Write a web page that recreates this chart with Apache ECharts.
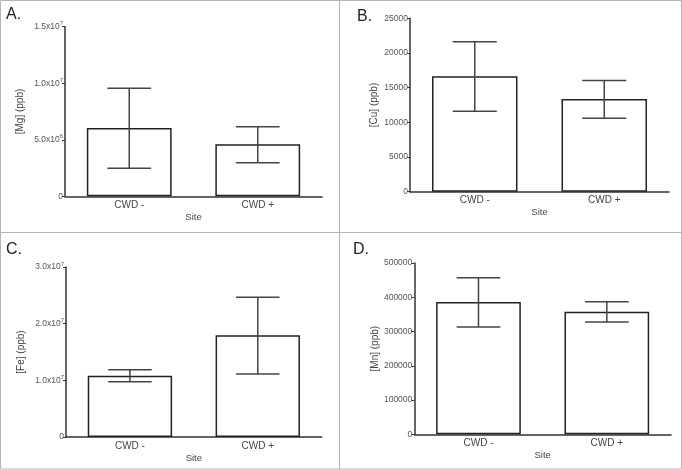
<!DOCTYPE html>
<html><head><meta charset="utf-8">
<script src="https://cdn.jsdelivr.net/npm/echarts@6/dist/echarts.min.js"></script>
<style>html,body{margin:0;padding:0;background:#fff}#c{width:682px;height:470px}</style>
</head><body><div id="c"></div>
<script>
// ---- data ----
const categories = ['CWD -', 'CWD +'];
const mgMean = [6.04e6, 4.60e6];
const mgLow  = [2.48e6, 2.97e6];
const mgHigh = [9.56e6, 6.16e6];
const cuMean = [16630, 13360];
const cuLow  = [11590, 10580];
const cuHigh = [21610, 16050];
const feMean = [1.082e7, 1.794e7];
const feLow  = [0.976e7, 1.112e7];
const feHigh = [1.188e7, 2.465e7];
const mnMean = [386200, 358000];
const mnLow  = [313200, 327800];
const mnHigh = [457200, 387200];
const tickLabelsA = ['0', '5.0x10|6', '1.0x10|7', '1.5x10|7'];
const tickLabelsB = ['0', '5000', '10000', '15000', '20000', '25000'];
const tickLabelsC = ['0', '1.0x10|7', '2.0x10|7', '3.0x10|7'];
const tickLabelsD = ['0', '100000', '200000', '300000', '400000', '500000'];
const yNames = ['[Mg] (ppb)', '[Cu] (ppb)', '[Fe] (ppb)', '[Mn] (ppb)'];
const panelLetters = ['A.', 'B.', 'C.', 'D.'];
const xName = 'Site';

const panels = [
  {mean: mgMean, low: mgLow, high: mgHigh, ticks: tickLabelsA, max: 1.5e7, interval: 5e6,
   grid: {left: 65, right: 360, top: 26.7, bottom: 273.7}, nameGap: 40, letter: [6, 7]},
  {mean: cuMean, low: cuLow, high: cuHigh, ticks: tickLabelsB, max: 25000, interval: 5000,
   grid: {left: 410, right: 13, top: 18.3, bottom: 278.3}, nameGap: 31, letter: [357, 9]},
  {mean: feMean, low: feLow, high: feHigh, ticks: tickLabelsC, max: 3e7, interval: 1e7,
   grid: {left: 66, right: 360.3, top: 267, bottom: 33}, nameGap: 40, letter: [6, 242]},
  {mean: mnMean, low: mnLow, high: mnHigh, ticks: tickLabelsD, max: 500000, interval: 100000,
   grid: {left: 414.3, right: 11, top: 263, bottom: 35.7}, nameGap: 33, letter: [353, 242]}
];

const font = 'Liberation Sans, Arial, sans-serif';
const grids = [], xAxes = [], yAxes = [], series = [], graphics = [];

panels.forEach((p, i) => {
  grids.push(Object.assign({containLabel: false}, p.grid));
  xAxes.push({
    type: 'category', gridIndex: i, data: categories,
    axisLine: {lineStyle: {color: '#333', width: 1.5}},
    axisTick: {show: false},
    axisLabel: {color: '#444', fontSize: 10, fontFamily: font, margin: 4},
    name: xName, nameLocation: 'middle', nameGap: 16,
    nameTextStyle: {color: '#444', fontSize: 9.5, fontFamily: font}
  });
  yAxes.push({
    type: 'value', gridIndex: i, min: 0, max: p.max, interval: p.interval,
    splitLine: {show: false},
    axisLine: {show: true, lineStyle: {color: '#333', width: 1.5}},
    axisTick: {show: true, length: 3, lineStyle: {color: '#333', width: 1}},
    axisLabel: {
      color: '#555', fontSize: 8.5, fontFamily: font, margin: 2,
      formatter: (v) => {
        const t = p.ticks[Math.round(v / p.interval)];
        if (t === undefined) return '';
        const parts = t.split('|');
        return parts.length > 1 ? '{b|' + parts[0] + '}{s|' + parts[1] + '}' : '{b|' + t + '}';
      },
      rich: {
        b: {fontSize: 8.5, color: '#555', fontFamily: font},
        s: {fontSize: 6, color: '#555', fontFamily: font, verticalAlign: 'top', padding: [0, 0, 6, 0]}
      }
    },
    name: yNames[i], nameLocation: 'middle', nameGap: p.nameGap, nameRotate: 90,
    nameTextStyle: {color: '#444', fontSize: 10, fontFamily: font}
  });
  series.push({
    type: 'bar', xAxisIndex: i, yAxisIndex: i, data: p.mean, barWidth: '66%',
    itemStyle: {color: '#fff', borderColor: '#222', borderWidth: 1.5},
    silent: true, animation: false
  });
  series.push({
    type: 'custom', xAxisIndex: i, yAxisIndex: i, animation: false, silent: true, z: 5,
    data: categories.map((c, k) => [k, p.low[k], p.high[k]]),
    renderItem: (params, api) => {
      const x = api.value(0);
      const lo = api.coord([x, api.value(1)]);
      const hi = api.coord([x, api.value(2)]);
      const half = api.size([1, 0])[0] * 0.17;
      const st = {stroke: '#444', lineWidth: 1.5};
      return {type: 'group', children: [
        {type: 'line', shape: {x1: hi[0], y1: hi[1], x2: lo[0], y2: lo[1]}, style: st},
        {type: 'line', shape: {x1: hi[0] - half, y1: hi[1], x2: hi[0] + half, y2: hi[1]}, style: st},
        {type: 'line', shape: {x1: lo[0] - half, y1: lo[1], x2: lo[0] + half, y2: lo[1]}, style: st}
      ]};
    }
  });
  graphics.push({type: 'text', left: p.letter[0], top: p.letter[1],
    style: {text: panelLetters[i], fontSize: 16, fill: '#222', fontFamily: font}});
});

// panel frame lines
const frame = {stroke: '#b4b4b4', lineWidth: 1};
graphics.push({type: 'rect', shape: {x: 0.5, y: 0.5, width: 681, height: 468.5}, style: {fill: 'none', stroke: '#b4b4b4', lineWidth: 1}, silent: true});
graphics.push({type: 'line', shape: {x1: 339.5, y1: 0, x2: 339.5, y2: 470}, style: frame, silent: true});
graphics.push({type: 'line', shape: {x1: 0, y1: 232.5, x2: 682, y2: 232.5}, style: frame, silent: true});

const chart = echarts.init(document.getElementById('c'), null, {renderer: 'canvas'});
chart.setOption({
  animation: false,
  backgroundColor: '#fff',
  grid: grids, xAxis: xAxes, yAxis: yAxes, series: series, graphic: graphics
});
</script></body></html>
